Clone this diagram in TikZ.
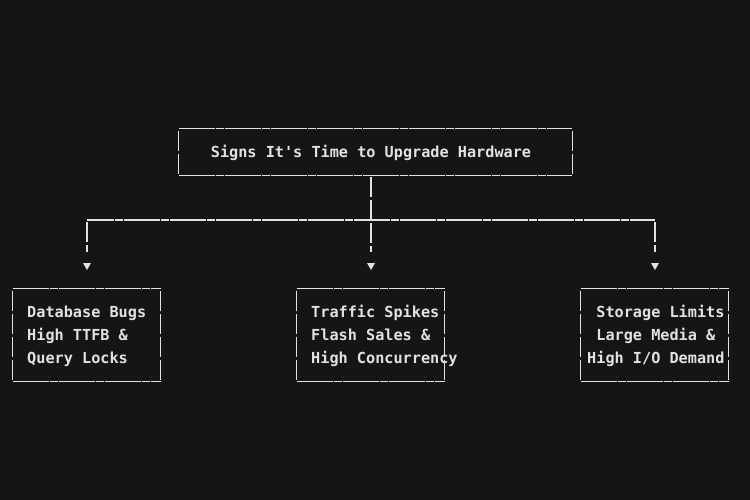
\documentclass[tikz,border=0pt]{standalone}
\usepackage{fontspec}
\newfontfamily\mfont{DejaVu Sans Mono}
\definecolor{bg}{HTML}{151515}
\definecolor{fg}{HTML}{E2E2E2}
\begin{document}
\begin{tikzpicture}[x=1pt,y=-1pt,
  frame/.style={minimum width=#1,minimum height=92pt,inner sep=0pt},
  frame/.default=147pt,
  txt/.style={text=fg,font=\mfont\bfseries\fontsize{15.2}{23}\selectfont,align=left,inner sep=0pt,anchor=west},
  hl/.style={draw=fg,line width=1.1pt,dash pattern=on 8.8pt off 0.4pt},
  vl/.style={draw=fg,line width=1.1pt,dash pattern=on 20pt off 3pt,dash phase=-2pt},
  tip/.style={fill=fg}]
\fill[bg] (0,0) rectangle (750,500);
\useasboundingbox (0,0) rectangle (750,500);
% top box
\node[frame=393pt,minimum height=46pt] (top) at (375.5,152) {};
\node[txt,anchor=center] (toptxt) at (371,153) {Signs It's Time to Upgrade Hardware};
% bottom boxes
\node[frame] (b1) at (86.5,335) {};
\node[frame] (b2) at (370.5,335) {};
\node[frame] (b3) at (654.5,335) {};
\node[txt] (t1) at (27,336) {Database Bugs\\High TTFB \&\\Query Locks};
\node[txt] (t2) at (311,336) {Traffic Spikes\\Flash Sales \&\\High Concurrency};
\node[txt] (t3) at (587,336) {~Storage Limits\\~Large Media \&\\High I/O Demand};
% frames
\foreach \b in {top,b1,b2,b3}{
  \path[hl] (\b.north west) -- (\b.north east);
  \path[hl] (\b.south west) -- (\b.south east);
  \path[vl] (\b.north west) -- (\b.south west);
  \path[vl] (\b.north east) -- (\b.south east);
}
% connectors
\coordinate (j) at (371,220);
\coordinate (e1) at (87,252);
\coordinate (e2) at (371,252);
\coordinate (e3) at (655,252);
\path[vl] (top.south -| j) -- (e2);
\path[hl] (e1 |- j) -- (e3 |- j);
\path[vl] (e1 |- j) -- (e1);
\path[vl] (e3 |- j) -- (e3);
\foreach \c in {e1,e2,e3}{
  \fill[tip] ([xshift=-4pt,yshift=-11pt]\c) -- ([xshift=4pt,yshift=-11pt]\c) -- ([yshift=-18pt]\c) -- cycle;
}
\end{tikzpicture}
\end{document}
